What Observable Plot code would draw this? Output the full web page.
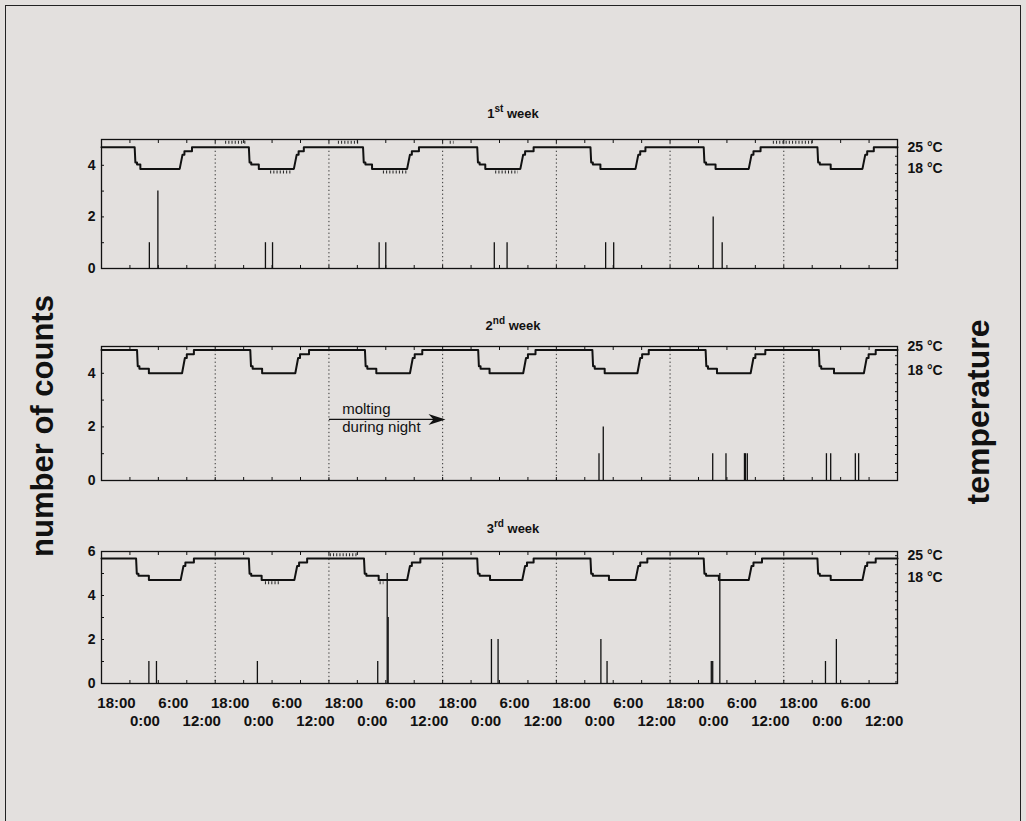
<!DOCTYPE html>
<html>
<head>
<meta charset="utf-8">
<script src="https://cdn.jsdelivr.net/npm/d3@7"></script>
<script src="https://cdn.jsdelivr.net/npm/@observablehq/plot@0.6"></script>
<style>
html, body { margin: 0; padding: 0; background: #e3e0de; }
#page { position: relative; width: 1026px; height: 821px; overflow: hidden; font-family: "Liberation Sans", Arial, sans-serif; color: #111; }
#border { position: absolute; left: 5px; top: 5px; width: 1014px; height: 900px; border: 1.5px solid #222; }
.title { position: absolute; width: 200px; text-align: center; font-weight: bold; font-size: 13px; }
.title sup { font-size: 10px; position: relative; top: -1px; }
.panel { position: absolute; left: 0; }
.ylab { position: absolute; font-weight: bold; font-size: 31px; white-space: nowrap; transform: translate(-50%, -50%) rotate(-90deg); }
</style>
</head>
<body>
<div id="page">
  <div id="border"></div>
  <div class="title" style="left:413px; top:104px;">1<sup>st</sup> week</div>
  <div class="title" style="left:413px; top:316px;">2<sup>nd</sup> week</div>
  <div class="title" style="left:413px; top:519px;">3<sup>rd</sup> week</div>
  <div class="ylab" style="left:43px; top:426px;">number of counts</div>
  <div class="ylab" style="left:978px; top:412px; font-size:32px;">temperature</div>
  <div class="panel" id="p1" style="top:125px;"></div>
  <div class="panel" id="p2" style="top:332px;"></div>
  <div class="panel" id="p3" style="top:537px;"></div>
</div>
<script>
// ---- x axis: hours since 18:00 of first day, one week ----
const dayBoundaries = [24, 48, 72, 96, 120, 144];
const clockLabels = ["18:00", "0:00", "6:00", "12:00"];

// ---- counts (hour of event, number of counts) ----
const week1Hours  = [10.1, 11.9, 34.6, 36.1, 58.6, 60.0, 82.9, 85.6, 106.4, 108.1, 129.1, 131.0];
const week1Counts = [1, 3, 1, 1, 1, 1, 1, 1, 1, 1, 2, 1];
const week2Hours  = [105.0, 105.9, 129.0, 131.8, 135.7, 135.9, 136.3, 153.0, 153.9, 159.1, 159.8];
const week2Counts = [1, 2, 1, 1, 1, 1, 1, 1, 1, 1, 1];
const week3Hours  = [10.0, 11.6, 32.9, 58.3, 60.3, 60.5, 82.3, 83.7, 105.4, 106.7, 128.7, 129.0, 130.5, 152.8, 155.1];
const week3Counts = [1, 1, 1, 1, 5, 3, 2, 2, 2, 1, 1, 1, 5, 1, 2];

// ---- temperature cycle key times (hours): start of cooling, low reached, start of warming, high reached ----
const week1Drop = [7.0, 31.1, 55.2, 79.3, 103.2, 127.1, 151.1];
const week1Low  = [8.2, 33.2, 57.1, 81.0, 105.3, 129.6, 153.9];
const week1Rise = [16.5, 40.6, 64.5, 88.4, 112.7, 136.6, 160.6];
const week1High = [19.1, 42.7, 67.0, 91.2, 114.8, 139.1, 163.0];

const week2Drop = [7.5, 31.4, 55.6, 79.5, 103.6, 127.5, 151.4];
const week2Low  = [10.0, 33.9, 58.0, 81.9, 106.2, 129.9, 154.6];
const week2Rise = [17.0, 40.9, 65.1, 89.0, 113.1, 137.0, 160.9];
const week2High = [19.5, 43.8, 67.7, 91.6, 115.5, 140.1, 163.4];

const week3Drop = [7.3, 31.1, 55.4, 79.3, 103.2, 127.1, 151.1];
const week3Low  = [10.0, 33.8, 58.5, 82.0, 107.1, 130.3, 153.9];
const week3Rise = [16.7, 40.7, 64.5, 88.8, 112.7, 136.6, 160.6];
const week3High = [19.5, 43.4, 67.3, 91.2, 115.2, 139.4, 163.4];

// temperature levels of the steps (°C): day, first cooling step, second cooling step, night, first warming step, second warming step
const stepLevels = [25, 20.1, 19.4, 18, 22.6, 23.7];
const tempLabels = [25, 18];

// short stretches of sensor flicker (start hour, end hour, °C level)
const week1Flicker = [[26.2, 30.8, 26.6], [50.0, 54.7, 26.6], [73.6, 74.4, 26.6], [141.8, 150.3, 26.6],
                      [35.7, 40.3, 17.0], [59.5, 64.6, 17.0], [83.2, 88.0, 17.0]];
const week2Flicker = [];
const week3Flicker = [[48.3, 54.2, 26.2], [34.6, 37.8, 17.1], [58.8, 59.6, 17.1]];

function tempPoints(drop, low, rise, high) {
  const [day, c1, c2, night, w1, w2] = stepLevels;
  const pts = [[0, day]];
  for (let i = 0; i < drop.length; i++) {
    const D = drop[i], L = low[i], R = rise[i], H = high[i];
    pts.push([D, day], [D + 0.15, c1], [D + 0.5, c1], [D + 0.5, c2], [L, c2], [L, night],
             [R, night], [R + 0.6, w1], [R + 1.0, w1], [R + 1.0, w2], [H, w2], [H, day]);
  }
  pts.push([168, day]);
  return pts.map(([h, t]) => ({h, t}));
}

const arrowHead = {
  draw(ctx) {
    ctx.moveTo(0, 0);
    ctx.lineTo(-17, -5.5);
    ctx.lineTo(-12, 0);
    ctx.lineTo(-17, 5.5);
    ctx.closePath();
  }
};

const FONT = '"Liberation Sans", Arial, sans-serif';

function panel(o) {
  const toC = (T) => o.c18 + (T - 18) * (o.c25 - o.c18) / 7;
  const temps = tempPoints(o.drop, o.low, o.rise, o.high).map(d => ({h: d.h, c: toC(d.t)}));
  const bars = o.hours.map((h, i) => ({h, c: o.counts[i]}));
  const flicker = o.flicker.map(([a, b, t]) => ({a, b, c: toC(t)}));
  const xTicks = d3.range(0, 169, 6);
  const yTicks = d3.range(0, o.yMax + 1, 1);
  const yLabelTicks = d3.range(0, o.yMax + 1, 2);
  const rTicks = d3.range(o.rStart, o.yMax - 0.1, o.rStep);
  const marks = [
    Plot.ruleX(dayBoundaries, {x: d => d, stroke: "#333", strokeWidth: 1, strokeDasharray: "1.3,2.6"}),
    Plot.ruleX(bars, {x: "h", y1: 0, y2: "c", stroke: "#111", strokeWidth: 1.3}),
    Plot.ruleY(flicker, {x1: "a", x2: "b", y: "c", stroke: "#222", strokeWidth: 3, strokeDasharray: "1,2.2"}),
    Plot.line(temps, {x: "h", y: "c", stroke: "#111", strokeWidth: 2}),
    Plot.frame({stroke: "#111", strokeWidth: 1.3}),
    Plot.axisY({anchor: "left", label: null, ticks: yLabelTicks, tickSize: 0, tickPadding: 6, fontSize: 14, fontWeight: "bold", tickFormat: d => String(d)}),
    Plot.axisY({anchor: "left", label: null, ticks: yTicks, tickSize: 3, dx: 3, tickFormat: () => ""}),
    Plot.axisY({anchor: "right", label: null, ticks: rTicks, tickSize: 3, dx: -3, tickFormat: () => ""}),
    Plot.axisX({anchor: "top", label: null, ticks: xTicks, tickSize: 3, dy: 3, tickFormat: () => ""}),
    Plot.axisX({anchor: "bottom", label: null, ticks: xTicks, tickSize: 3, dy: -3, tickFormat: () => ""}),
    Plot.text(tempLabels, {x: 168, y: d => toC(d), text: d => `${d} °C`, dx: 10, dy: o.labelDy, textAnchor: "start", fontSize: 14, fontWeight: "bold"})
  ];
  if (o.xLabels) {
    const row1 = xTicks.filter(h => h < 168 && (h / 6) % 2 === 0);
    const row2 = xTicks.filter(h => h < 168 && (h / 6) % 2 === 1);
    const fmt = h => clockLabels[(h / 6) % 4];
    marks.push(
      Plot.text(row1, {x: d => d, text: fmt, frameAnchor: "bottom", dx: 15, dy: 20, fontSize: 15, fontWeight: "bold", lineAnchor: "middle"}),
      Plot.text(row2, {x: d => d, text: fmt, frameAnchor: "bottom", dx: 15, dy: 38, fontSize: 15, fontWeight: "bold", lineAnchor: "middle"})
    );
  }
  if (o.extra) marks.push(...o.extra);
  return Plot.plot({
    width: 1026,
    height: o.height,
    marginLeft: 101,
    marginRight: 129,
    marginTop: 14,
    marginBottom: o.mb,
    x: {domain: [0, 168], label: null},
    y: {domain: [0, o.yMax], label: null},
    style: {background: "transparent", fontFamily: FONT, fontSize: "14px", fontWeight: "bold", color: "#111", overflow: "visible"},
    marks
  });
}

// annotation (week 2)
const noteArrowFrom = 48, noteArrowTo = 72.6, noteLevel = 2.28;
const noteLines = [{text: "molting", c: 2.65}, {text: "during night", c: 1.98}];

document.getElementById("p1").append(panel({
  hours: week1Hours, counts: week1Counts, flicker: week1Flicker,
  drop: week1Drop, low: week1Low, rise: week1Rise, high: week1High,
  c25: 4.70, c18: 3.86, yMax: 5, height: 14 + 129 + 20, mb: 20,
  rStart: 0.33, rStep: 0.335, labelDy: 0
}));

document.getElementById("p2").append(panel({
  hours: week2Hours, counts: week2Counts, flicker: week2Flicker,
  drop: week2Drop, low: week2Low, rise: week2Rise, high: week2High,
  c25: 4.87, c18: 4.00, yMax: 5, height: 14 + 134 + 20, mb: 20,
  rStart: 0.3, rStep: 0.335, labelDy: -3,
  extra: [
    Plot.link([0], {x1: noteArrowFrom, x2: noteArrowTo - 0.5, y1: noteLevel, y2: noteLevel, stroke: "#111", strokeWidth: 1.3}),
    Plot.dot([0], {x: noteArrowTo, y: noteLevel, symbol: arrowHead, fill: "#111", stroke: "none"}),
    Plot.text(noteLines, {x: 50.8, y: "c", text: "text", textAnchor: "start", fontSize: 15, fontWeight: "normal"})
  ]
}));

document.getElementById("p3").append(panel({
  hours: week3Hours, counts: week3Counts, flicker: week3Flicker,
  drop: week3Drop, low: week3Low, rise: week3Rise, high: week3High,
  c25: 5.68, c18: 4.70, yMax: 6, height: 14 + 132 + 50, mb: 50,
  rStart: 0.07, rStep: 0.41, labelDy: -3, xLabels: true
}));
</script>
</body>
</html>
